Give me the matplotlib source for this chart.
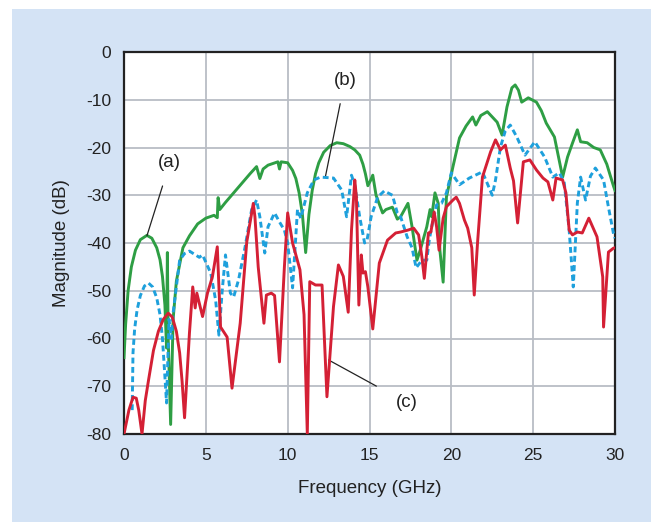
import matplotlib
matplotlib.use("Agg")
import matplotlib.pyplot as plt
from matplotlib.patches import Rectangle

# ---- data ----
green_f = [0, 0.1, 0.25, 0.45, 0.7, 1.0, 1.4, 1.7, 2.0, 2.2, 2.35, 2.5, 2.6, 2.65, 2.7, 2.85,
           3.0, 3.2, 3.6, 4.0, 4.5,
           5.0, 5.5, 5.7, 5.75, 5.85, 6.2, 6.7, 7.2, 7.7, 8.1, 8.3, 8.5, 8.8, 9.4, 9.5, 9.6, 10.0,
           10.3, 10.5, 10.7, 10.9, 11.1, 11.3, 11.5, 11.7, 11.9, 12.2, 12.6, 13.0, 13.4, 13.8,
           14.1, 14.4, 14.6, 14.75, 14.9,
           15.05, 15.2, 15.4, 15.8, 16.0, 16.4, 16.7, 16.9, 17.35, 17.6, 17.9, 18.1, 18.5, 18.7,
           18.8, 19.0, 19.2, 19.3, 19.5, 19.7, 20.1, 20.5, 20.9, 21.3, 21.5, 21.8, 22.2, 22.8,
           23.1, 23.4, 23.7, 23.9, 24.1, 24.3, 24.7, 25.2, 25.5, 25.8, 26.3, 26.8, 27.1, 27.4,
           27.7, 27.9, 28.3, 28.7, 29.1, 29.5, 29.9, 30.0]
green_db = [-64, -57, -50, -45, -41.5, -39.3, -38.4, -39, -41, -43.5, -47, -53, -62, -42, -60,
            -78, -56, -48, -41, -38.5,
            -36, -34.8, -34.2, -34.7, -30.5, -33, -31.5, -29.5, -27.5, -25.5, -24, -26.5, -24.5,
            -23.7, -23, -24.5, -23, -23.2, -24.8, -26.5, -29.5, -34, -42, -34, -29, -25.5, -23.2,
            -21, -19.6, -19, -19.2, -19.8, -20.5, -21.6, -23.5, -25.5, -28,
            -27, -25.8, -30, -33.7, -33, -32.5, -35, -34.5, -31.7,
            -36.6, -43.6, -41.5, -36.6, -33, -34.5, -29.5, -31.7, -41.5, -48.2, -30.4, -24, -18,
            -15.5, -13.6, -15.3, -13.3, -12.5, -14.7, -17.4, -11.5, -7.5, -6.9, -8, -10.5, -9.6,
            -10.5, -12.3, -14.9, -17.8, -26.2, -22, -19.1, -16.3, -18.8, -19, -20, -20.5, -23.5,
            -28, -29]

blue_f = [0.5, 0.55, 0.65, 0.8, 1.0, 1.25, 1.5, 1.75, 2.0, 2.2, 2.35, 2.5, 2.6, 2.75, 2.9, 3.0,
          3.4, 3.7, 4.0, 4.6, 4.8, 5.3,
          5.6, 5.8, 6.0, 6.2, 6.5, 6.7, 7.0, 7.4, 7.8, 8.1, 8.3, 8.6, 8.8, 9.2, 9.5, 9.8, 10.0,
          10.3, 10.6, 10.8, 11.2, 11.6, 12.0, 12.8, 13.3, 13.6, 13.9, 14.1, 14.4, 14.7, 14.85,
          15.1, 15.5, 15.9, 16.4, 16.7, 16.9, 17.3, 17.6, 17.85, 18.2, 18.5, 18.65, 18.8, 19.1,
          19.4, 19.7, 20.0, 20.5, 21.1, 21.9, 22.5, 22.7, 23.0, 23.3, 23.6, 24.0, 24.5, 25.1,
          25.7, 26.2, 26.6, 26.9, 27.2, 27.45, 27.7, 27.9, 28.2, 28.5, 28.8, 29.3, 29.6, 29.9, 30.0]
blue_db = [-75, -63, -58, -54, -51, -49, -48.4, -49.2, -51.5, -55, -60, -68, -73.5, -56, -60,
           -54.7, -43.6, -42.2, -41.7, -43,
           -42.5, -46.3, -52, -59.3, -50, -42.5, -50.5, -51.3, -47.7, -40.8, -33, -31, -34.5,
           -42.1, -36.6, -33.7, -35.6, -37.3, -40, -49.4, -33, -34.8, -29.5, -26.8, -26.2, -26.4,
           -28.9, -34.5, -25.8, -27.9, -34.5, -40, -39.4, -34.5, -30.4, -29.1, -30, -33.7, -34.5,
           -38.7, -41, -45.2, -43.6, -43.6, -39.4, -36.6, -32, -31.7, -29.5, -25.3, -27.8, -26.4,
           -25.1, -30, -26.8, -19.9, -16.5, -15.3, -17.8, -21.6, -18.8, -22, -26.2, -25.3, -27.4,
           -37.3, -49.2, -31.6, -26.2, -31, -26, -24.3, -26.8, -32.5, -37.9, -39]

red_f = [0, 0.3, 0.55, 0.75, 0.9, 1.1, 1.3, 1.5, 1.8, 2.1, 2.4, 2.7, 2.95, 3.2, 3.4, 3.55, 3.7,
         4.0, 4.2, 4.35, 4.45,
         4.8, 5.1, 5.4, 5.7, 5.9, 6.3, 6.6, 7.1, 7.5, 7.9, 8.0, 8.2, 8.55, 8.7, 9.0, 9.2, 9.5, 9.8,
         10.0, 10.3, 10.75, 11.0, 11.2, 11.35, 11.7, 12.1, 12.4, 12.8, 13.1, 13.4, 13.7, 13.9,
         14.1, 14.2, 14.35, 14.5, 14.6, 14.75, 14.9, 15.2, 15.6, 16.1, 16.6, 16.9, 17.35, 17.7,
         18.0, 18.2, 18.35, 18.6, 18.75, 18.95, 19.1, 19.25, 19.5, 19.7, 20.1, 20.3, 20.5, 20.8,
         21.0, 21.25, 21.4, 21.6, 21.9, 22.4, 22.7, 23.0, 23.3, 23.6, 23.8, 24.05, 24.4, 24.8,
         25.2, 25.6, 25.9, 26.2, 26.4, 26.8, 27.0, 27.2, 27.4, 27.7, 28.0, 28.4, 28.9, 29.25,
         29.3, 29.6, 29.9, 30.0]
red_db = [-80, -75, -72.3, -72.5, -75, -80, -73, -68.7, -62.5, -58.5, -56, -54.7, -55.5, -58.5,
          -63, -69, -76.6, -58.8,
          -49.2, -53.6, -50.5, -55.4, -50.5, -47.1, -40.8, -57.6, -59.7, -70.4, -56.8, -39.8,
          -31.7, -34.5, -45, -56.8, -50.9, -50.5, -51, -64.9, -45, -33.7, -40, -45.6, -55, -80,
          -48.1, -48.8, -48.8, -72.2, -53.3, -44.6, -47, -54.5, -37.3, -26.8, -30.4, -53, -42.5,
          -46.3, -46, -49.2, -58, -44.2, -39.4, -37.9, -37.7, -37.3, -36.9, -38.3, -42.9, -47.4,
          -37.9, -37.7, -33.5, -36.6, -41.5, -34.8, -32.4, -31, -30.4, -31.7, -35.2, -36.9, -41,
          -50.9, -40, -26.2, -20.9, -18.4, -20.5, -19.5, -24.3, -27, -35.8, -23, -22.6, -24.7,
          -26.4, -27.2, -31, -26.4, -26.8, -29.5, -37.3, -38.3, -37.7, -37.9, -34.8, -38.7, -47.1,
          -57.6, -41.9, -41.1, -41]

x_ticks = [0, 5, 10, 15, 20, 25, 30]
y_ticks = [0, -10, -20, -30, -40, -50, -60, -70, -80]
x_label = "Frequency (GHz)"
y_label = "Magnitude (dB)"

# ---- figure ----
W, H = 655, 522
plt.rcParams["font.family"] = ["Liberation Sans", "DejaVu Sans"]
fig = plt.figure(figsize=(W / 100, H / 100), dpi=100, facecolor="white")

bg = Rectangle((12 / W, 0), (651 - 12) / W, (522 - 9) / H,
               transform=fig.transFigure, facecolor="#d4e3f5",
               edgecolor="none", zorder=-10)
fig.patches.append(bg)

ax = fig.add_axes([124 / W, 1 - 434 / H, (615 - 124) / W, (434 - 52) / H])
ax.set_zorder(1)
ax.set_facecolor("white")

ax.plot(green_f, green_db, color="#2e9e44", lw=2.1, zorder=3, solid_joinstyle="round")
ax.plot(blue_f, blue_db, color="#1ea0dc", lw=2.1, zorder=4, dashes=(2.0, 1.2))
ax.plot(red_f, red_db, color="#d42035", lw=2.1, zorder=5, solid_joinstyle="round")

ax.set_xlim(0, 30)
ax.set_ylim(-80, 0)
ax.set_xticks(x_ticks)
ax.set_yticks(y_ticks)
ax.set_yticklabels([str(v) for v in y_ticks])
ax.tick_params(length=0, labelsize=12.5, colors="#222222")
ax.tick_params(axis="y", pad=9)
ax.tick_params(axis="x", pad=10)
ax.grid(True, color="#b9bdc5", lw=1.3)
ax.set_axisbelow(True)
for s in ax.spines.values():
    s.set_color("#222222")
    s.set_linewidth(1.6)

ax.set_xlabel(x_label, fontsize=13.5, color="#222222", labelpad=12)
ax.set_ylabel(y_label, fontsize=13.5, color="#222222", labelpad=12)

# annotations
ax.annotate("(a)", xy=(1.4, -38.5), xytext=(2.8, -23.2), fontsize=13.5,
            ha="center", va="center", color="#222222",
            arrowprops=dict(arrowstyle="-", color="#222222", lw=0.9,
                            shrinkA=9, shrinkB=0))
ax.annotate("(b)", xy=(12.3, -26.2), xytext=(13.5, -5.9), fontsize=13.5,
            ha="center", va="center", color="#222222",
            arrowprops=dict(arrowstyle="-", color="#222222", lw=0.9,
                            shrinkA=9, shrinkB=0))
ax.annotate("(c)", xy=(12.5, -64.5), xytext=(17.3, -73.5), fontsize=13.5,
            ha="center", va="center", color="#222222",
            arrowprops=dict(arrowstyle="-", color="#222222", lw=0.9,
                            shrinkA=14, shrinkB=0))

fig.savefig("out.png", dpi=100, facecolor="white")
